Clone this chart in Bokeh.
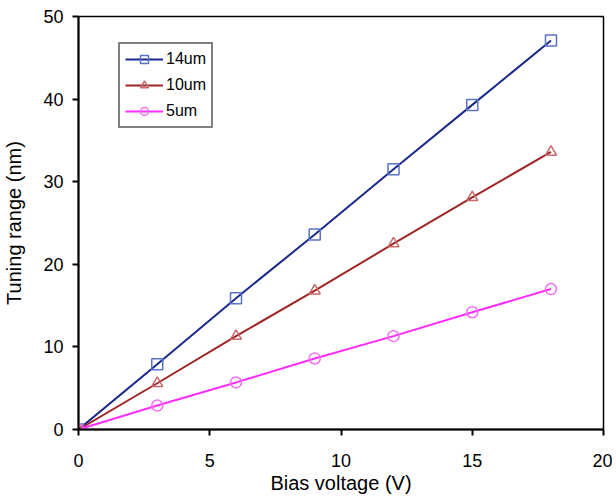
from bokeh.plotting import figure
from bokeh.models import Range1d, FixedTicker, Legend, LegendItem
from bokeh.embed import file_html
from bokeh.resources import INLINE

bias_v = [0, 3, 6, 9, 12, 15, 18]
range_14um = [0, 7.9, 15.9, 23.6, 31.5, 39.3, 47.1]
range_10um = [0, 5.6, 11.3, 16.8, 22.5, 28.1, 33.6]
range_5um = [0, 2.9, 5.7, 8.6, 11.3, 14.2, 17.0]
x_ticks = [0, 5, 10, 15, 20]
y_ticks = [0, 10, 20, 30, 40, 50]

FONT = "Liberation Sans"

p = figure(width=612, height=497, output_backend="svg", toolbar_location=None,
           x_range=Range1d(0, 20), y_range=Range1d(0, 50),
           min_border_left=78, min_border_right=9, min_border_top=16, min_border_bottom=68)

p.xgrid.visible = False
p.ygrid.visible = False
p.outline_line_color = "black"
p.outline_line_width = 1.5
p.outline_line_alpha = 1.0
p.background_fill_color = "white"
p.border_fill_color = "white"

for ax in (p.xaxis[0], p.yaxis[0]):
    ax.axis_line_width = 2
    ax.axis_line_color = "black"
    ax.major_tick_line_width = 2
    ax.major_tick_line_color = "black"
    ax.major_tick_out = 6
    ax.major_tick_in = 0
    ax.minor_tick_line_color = None
    ax.major_label_text_font = FONT
    ax.major_label_text_font_size = "18px"
    ax.major_label_text_color = "black"
    ax.axis_label_text_font = FONT
    ax.axis_label_text_font_size = "20px"
    ax.axis_label_text_font_style = "normal"
    ax.axis_label_text_color = "black"

p.xaxis[0].ticker = FixedTicker(ticks=x_ticks)
p.yaxis[0].ticker = FixedTicker(ticks=y_ticks)
p.xaxis[0].axis_label = "Bias voltage (V)"
p.yaxis[0].axis_label = "Tuning range (nm)"
p.xaxis[0].major_label_standoff = 18
p.xaxis[0].axis_label_standoff = 2
p.yaxis[0].major_label_standoff = 9
p.yaxis[0].axis_label_standoff = 15

series = [
    ("14um", range_14um, "#1a2a8c", "#5a72c8", "square"),
    ("10um", range_10um, "#a02626", "#c86a6a", "triangle"),
    ("5um", range_5um, "#ff2cff", "#f070f0", "circle"),
]

items = []
for name, ys, lc, mc, mk in series:
    l = p.line(bias_v, ys, line_color=lc, line_width=2)
    m = p.scatter(bias_v, ys, marker=mk, size=11, fill_color=None,
                  line_color=mc, line_width=1.5)
    items.append(LegendItem(label=name, renderers=[l, m]))

legend = Legend(items=items, location=(40, 301))
legend.border_line_color = "black"
legend.border_line_width = 2
legend.background_fill_color = "white"
legend.background_fill_alpha = 1.0
legend.label_text_font = FONT
legend.label_text_font_size = "16px"
legend.label_text_color = "black"
legend.glyph_width = 38
legend.glyph_height = 20
legend.label_height = 20
legend.label_standoff = 3
legend.spacing = 6
legend.padding = 5
legend.margin = 0
p.add_layout(legend, "center")

open("out.html", "w").write(file_html(p, INLINE))
